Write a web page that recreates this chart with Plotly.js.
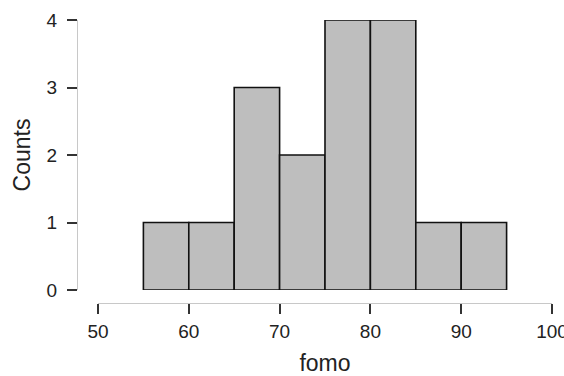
<!DOCTYPE html>
<html>
<head>
<meta charset="utf-8">
<script src="https://cdn.plot.ly/plotly-3.0.1.min.js"></script>
<style>
html,body{margin:0;padding:0;background:#fff;}
#chart{width:564px;height:376px;}
</style>
</head>
<body>
<div id="chart"></div>
<script>
// Histogram of fomo: bin start values and counts (bin width 5)
const binStarts = [55, 60, 65, 70, 75, 80, 85, 90];
const counts = [1, 1, 3, 2, 4, 4, 1, 1];
const binWidth = 5;
const xTicks = [50, 60, 70, 80, 90, 100];
const yTicks = [0, 1, 2, 3, 4];
const xLabel = 'fomo';
const yLabel = 'Counts';

const binCenters = binStarts.map(s => s + binWidth / 2);

const trace = {
  type: 'bar',
  x: binCenters,
  y: counts,
  width: binStarts.map(() => binWidth),
  marker: {color: '#bebebe', line: {color: '#111111', width: 1.6}},
  hoverinfo: 'x+y'
};

const fam = 'Liberation Sans, Arial, sans-serif';

const layout = {
  width: 564,
  height: 376,
  margin: {l: 77, r: 12, t: 20, b: 73},
  paper_bgcolor: '#ffffff',
  plot_bgcolor: 'rgba(0,0,0,0)',
  showlegend: false,
  bargap: 0,
  font: {family: fam, color: '#222'},
  xaxis: {
    range: [50, 100],
    domain: [0.0442, 1],
    anchor: 'free',
    position: 0,
    tickvals: xTicks,
    ticktext: xTicks.map(String),
    showgrid: false,
    zeroline: false,
    showline: true,
    linecolor: '#c8c8c8',
    linewidth: 1.2,
    ticks: 'outside',
    ticklen: 10,
    tickwidth: 2,
    tickcolor: '#333',
    tickfont: {size: 19, family: fam, color: '#222'},
    ticklabelstandoff: 1,
    ticklabeloverflow: 'allow',
    automargin: false,
    title: {text: xLabel, font: {size: 23, family: fam, color: '#222'}, standoff: 16}
  },
  yaxis: {
    range: [0, 4],
    domain: [0.0459, 1],
    anchor: 'free',
    position: 0,
    tickvals: yTicks,
    ticktext: yTicks.map(String),
    showgrid: false,
    zeroline: false,
    showline: true,
    linecolor: '#c8c8c8',
    linewidth: 1.2,
    ticks: 'outside',
    ticklen: 10,
    tickwidth: 2,
    tickcolor: '#333',
    tickfont: {size: 19, family: fam, color: '#222'},
    ticklabelstandoff: 6,
    ticklabeloverflow: 'allow',
    automargin: false,
    title: {text: yLabel, font: {size: 23, family: fam, color: '#222'}, standoff: 8}
  }
};

Plotly.newPlot('chart', [trace], layout, {staticPlot: true, displayModeBar: false});
</script>
</body>
</html>
